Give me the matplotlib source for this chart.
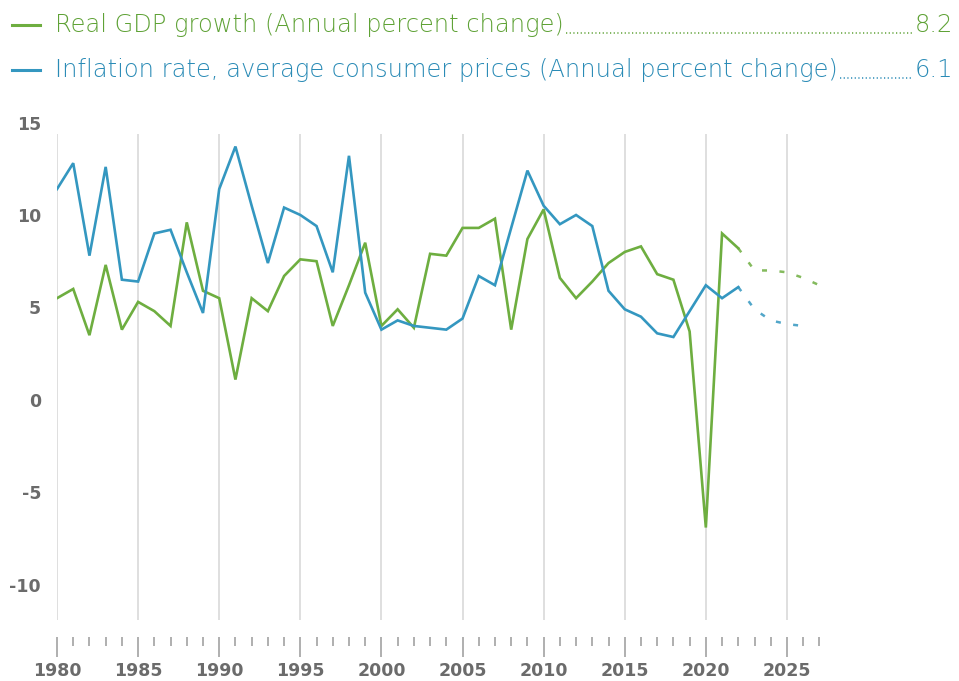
import matplotlib
matplotlib.use('Agg')
import matplotlib.pyplot as plt
from matplotlib.lines import Line2D
from matplotlib.ticker import FixedLocator, FuncFormatter

plt.rcParams['font.family'] = ['DejaVu Sans']

# data
years = list(range(1980, 2023))
gdp = [5.5, 6.0, 3.5, 7.3, 3.8, 5.3, 4.8, 4.0, 9.6, 5.9,
       5.5, 1.1, 5.5, 4.8, 6.7, 7.6, 7.5, 4.0, 6.2, 8.5,
       4.0, 4.9, 3.9, 7.9, 7.8, 9.3, 9.3, 9.8, 3.8, 8.7,
       10.3, 6.6, 5.5, 6.4, 7.4, 8.0, 8.3, 6.8, 6.5, 3.7,
       -6.9, 9.0, 8.2]
inflation = [11.4, 12.8, 7.8, 12.6, 6.5, 6.4, 9.0, 9.2, 6.9, 4.7,
             11.4, 13.7, 10.5, 7.4, 10.4, 10.0, 9.4, 6.9, 13.2, 5.8,
             3.8, 4.3, 4.0, 3.9, 3.8, 4.4, 6.7, 6.2, 9.3, 12.4,
             10.5, 9.5, 10.0, 9.4, 5.9, 4.9, 4.5, 3.6, 3.4, 4.8,
             6.2, 5.5, 6.1]

gdp_fc_years = [2022, 2023, 2024, 2025, 2026, 2027]
gdp_fc = [8.2, 7.0, 7.0, 6.9, 6.6, 6.2]
infl_fc_years = [2022, 2023, 2024, 2025, 2026]
infl_fc = [6.1, 4.9, 4.3, 4.1, 4.0]

gdp_label = 'Real GDP growth (Annual percent change)'
infl_label = 'Inflation rate, average consumer prices (Annual percent change)'
gdp_last = '8.2'
infl_last = '6.1'

grid_years = list(range(1980, 2026, 5))
y_ticks = [-10, -5, 0, 5, 10, 15]

green = '#6eae40'
blue = '#3497c0'
green_txt = '#5fa236'
blue_txt = '#2a8bb6'
grey_txt = '#6b6b6b'

W, H = 959, 681
fig = plt.figure(figsize=(W / 100, H / 100), dpi=100)
ax = fig.add_axes([57 / W, 61 / H, 770.5 / W, 497.5 / H])

# grid lines stop a bit below the top tick
ax.vlines(grid_years, -11.9, 14.4, color='#d6d6d6', lw=1.1, zorder=0)

ax.plot(years, gdp, color=green, lw=1.9, solid_joinstyle='miter')
ax.plot(years, inflation, color=blue, lw=1.9, solid_joinstyle='miter')
ax.plot(gdp_fc_years, gdp_fc, color=green, lw=1.8, dashes=(2, 5), alpha=0.85)
ax.plot(infl_fc_years, infl_fc, color=blue, lw=1.8, dashes=(2, 5), alpha=0.85)

ax.set_xlim(1980, 2027.5)
ax.set_ylim(-11.9, 15)

ax.xaxis.set_major_locator(FixedLocator(grid_years))
ax.xaxis.set_minor_locator(FixedLocator(list(range(1980, 2028))))
ax.yaxis.set_major_locator(FixedLocator(y_ticks))
ax.yaxis.set_major_formatter(FuncFormatter(lambda v, p: str(int(v))))

for s in ax.spines.values():
    s.set_visible(False)
ax.spines['bottom'].set_position(('outward', 12.2))

ax.tick_params(axis='x', which='major', length=14.4, width=1.1, color='#9a9a9a',
               pad=4, labelsize=12.5, labelcolor=grey_txt)
ax.tick_params(axis='x', which='minor', length=6.5, width=1.1, color='#9a9a9a')
ax.tick_params(axis='y', length=0, pad=11.5, labelsize=12.5, labelcolor=grey_txt)
for lab in ax.get_xticklabels() + ax.get_yticklabels():
    lab.set_fontweight('bold')

# legend rows with dot leaders
rows = [(25, gdp_label, gdp_last, green, green_txt),
        (70, infl_label, infl_last, blue, blue_txt)]
fig.canvas.draw()
rend = fig.canvas.get_renderer()
for yp, label, val, col, tcol in rows:
    yf = 1 - yp / H
    fig.add_artist(Line2D([12 / W, 40 / W], [yf, yf], color=col, lw=2.2))
    t1 = fig.text(55 / W, yf, label, color=tcol, fontsize=17.4, fontweight='light',
                  va='center', ha='left')
    t2 = fig.text(953 / W, yf, val, color=tcol, fontsize=17.4, fontweight='light',
                  va='center', ha='right')
    b1 = t1.get_window_extent(rend)
    b2 = t2.get_window_extent(rend)
    yb = 1 - (yp + 8) / H
    fig.add_artist(Line2D([(b1.x1 + 2) / W, (b2.x0 - 2) / W], [yb, yb], color=tcol,
                          lw=1.1, linestyle=(0, (0.8, 1.6))))

fig.savefig('out.png', dpi=100)
